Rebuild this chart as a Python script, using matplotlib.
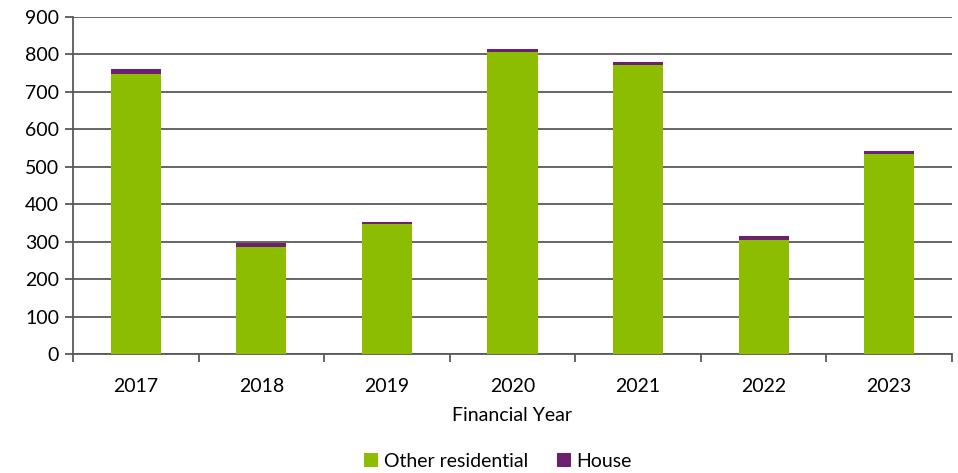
import matplotlib
matplotlib.use("Agg")
import matplotlib.pyplot as plt
import numpy as np

years = ["2017", "2018", "2019", "2020", "2021", "2022", "2023"]
other_residential = [747, 287, 346, 807, 772, 305, 534]
house = [15, 9, 6, 7, 8, 9, 7]

GREEN = "#8cbd00"
PURPLE = "#6e1f6e"
GRID = "#595959"

plt.rcParams["font.family"] = ["Lato", "DejaVu Sans"]
FS = 14

fig = plt.figure(figsize=(9.58, 4.73), dpi=100)
ax = fig.add_axes([73 / 958, 1 - 354 / 473, 879 / 958, 337 / 473])

x = np.arange(len(years))
ax.bar(x, other_residential, width=0.4, color=GREEN, label="Other residential", zorder=3)
ax.bar(x, house, width=0.4, bottom=other_residential, color=PURPLE, label="House", zorder=3)

ax.set_xlim(-0.5, len(years) - 0.5)
ax.set_ylim(0, 900)
ax.set_yticks(range(0, 901, 100))
ax.yaxis.grid(True, color=GRID, linewidth=1.3, zorder=0)
ax.set_axisbelow(True)

ax.set_xticks(x)
ax.set_xticklabels(years)
ax.set_xticks(np.arange(-0.5, len(years), 1), minor=True)
ax.tick_params(axis="x", which="major", length=0, pad=17, labelsize=FS)
ax.tick_params(axis="x", which="minor", length=6, color=GRID, width=1.3)
ax.tick_params(axis="y", length=6, color=GRID, width=1.3, labelsize=FS, pad=4)

for s in ["top", "right"]:
    ax.spines[s].set_visible(False)
ax.spines["left"].set_color(GRID)
ax.spines["left"].set_linewidth(1.3)
ax.spines["bottom"].set_color(GRID)
ax.spines["bottom"].set_linewidth(1.3)

ax.set_xlabel("Financial Year", fontsize=FS, labelpad=9)

handles, labels = ax.get_legend_handles_labels()
fig.legend(handles, labels, loc="center", bbox_to_anchor=(0.52, 1 - 461 / 473),
           ncol=2, frameon=False, fontsize=FS, handlelength=0.7, handleheight=0.7,
           handletextpad=0.3, columnspacing=1.5)

fig.savefig("out.png", dpi=100)
